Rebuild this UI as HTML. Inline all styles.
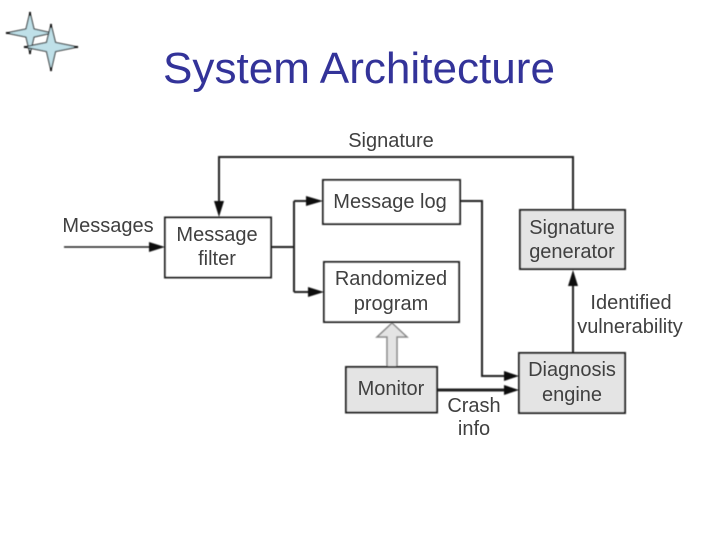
<!DOCTYPE html>
<html>
<head>
<meta charset="utf-8">
<style>
html,body{margin:0;padding:0;background:#fff;width:720px;height:540px;overflow:hidden}
svg{display:block}
text{font-family:"Liberation Sans",sans-serif}
.t{font-size:20px;fill:#404040;text-anchor:middle}
.b{fill:#fff;stroke:#222;stroke-width:2}
.g{fill:#e4e4e4;stroke:#222;stroke-width:2}
.l{fill:none;stroke:#222;stroke-width:2}
.a{fill:#111;stroke:none}
.s{fill:#bfe0e8;stroke:#111;stroke-width:1}
.tip{stroke:#111;stroke-width:2;fill:none}
</style>
</head>
<body>
<svg width="720" height="540" viewBox="0 0 720 540" xmlns="http://www.w3.org/2000/svg">
<defs><filter id="soft" filterUnits="userSpaceOnUse" x="0" y="0" width="720" height="540"><feGaussianBlur stdDeviation="0.4"/></filter></defs>
<rect width="720" height="540" fill="#fff"/>

<!-- stars -->
<g filter="url(#soft)">
<path class="s" d="M30 12 L34 29 L52 33 L34 37 L30 54 L26 37 L6 33 L26 29 Z"/>
<path class="tip" d="M30 12 V16 M30 50 V54 M6 33 H10"/>
<path class="s" d="M51 24 L55.500 42.500 L78 47 L55.500 51.500 L51 71 L46.500 51.500 L24 47 L46.500 42.500 Z"/>
<path class="tip" d="M51 24 V28 M51 67 V71 M24 47 H28 M74 47 H78"/>
</g>

<!-- title -->
<text x="163" y="83" font-size="44" fill="#333399" textLength="392" lengthAdjust="spacingAndGlyphs">System Architecture</text>

<g filter="url(#soft)">
<!-- connectors -->
<path class="l" d="M573 210 V157 H219 V205"/>
<polygon class="a" points="219,217 214,201 224,201"/>
<path class="l" style="stroke-width:1.5" d="M64 247 H152"/>
<polygon class="a" points="165,247 149,242 149,252"/>
<path class="l" d="M271 247 H294 M294 201 V292 M294 201 H310 M294 292 H312"/>
<polygon class="a" points="323,201 306,196 306,206"/>
<polygon class="a" points="324,292 308,287 308,297"/>
<path class="l" d="M460 201 H482 V376 H507"/>
<polygon class="a" points="519,376 504,371 504,381"/>
<path class="l" style="stroke-width:3" d="M437 390 H507"/>
<polygon class="a" points="519,390 504,385 504,395"/>
<path class="l" d="M573 353 V282"/>
<polygon class="a" points="573,270 568,286 578,286"/>

<!-- hollow arrow -->
<polygon points="387,367 387,337 377,337 392,323 407,337 397,337 397,367" fill="#e4e4e4" stroke="#888" stroke-width="1.500"/>

<!-- boxes -->
<rect class="b" x="165" y="217.500" width="106" height="60"/>
<rect class="b" x="323" y="180" width="137" height="44"/>
<rect class="b" x="324" y="262" width="135" height="60"/>
<rect class="g" x="346" y="367" width="91" height="45.500"/>
<rect class="g" x="519" y="353" width="106" height="60"/>
<rect class="g" x="520" y="210" width="105" height="59"/>
</g>

<!-- labels -->
<text class="t" x="391" y="147">Signature</text>
<text class="t" x="108" y="232">Messages</text>
<text class="t" x="217" y="241">Message</text>
<text class="t" x="217" y="265">filter</text>
<text class="t" x="390" y="208">Message log</text>
<text class="t" x="391" y="285">Randomized</text>
<text class="t" x="391" y="310">program</text>
<text class="t" x="391" y="395">Monitor</text>
<text class="t" x="572" y="376">Diagnosis</text>
<text class="t" x="572" y="401">engine</text>
<text class="t" x="572" y="234">Signature</text>
<text class="t" x="572" y="258">generator</text>
<text class="t" x="631" y="309">Identified</text>
<text class="t" x="630" y="333">vulnerability</text>
<text class="t" x="474" y="412">Crash</text>
<text class="t" x="474" y="435">info</text>
</svg>
</body>
</html>
